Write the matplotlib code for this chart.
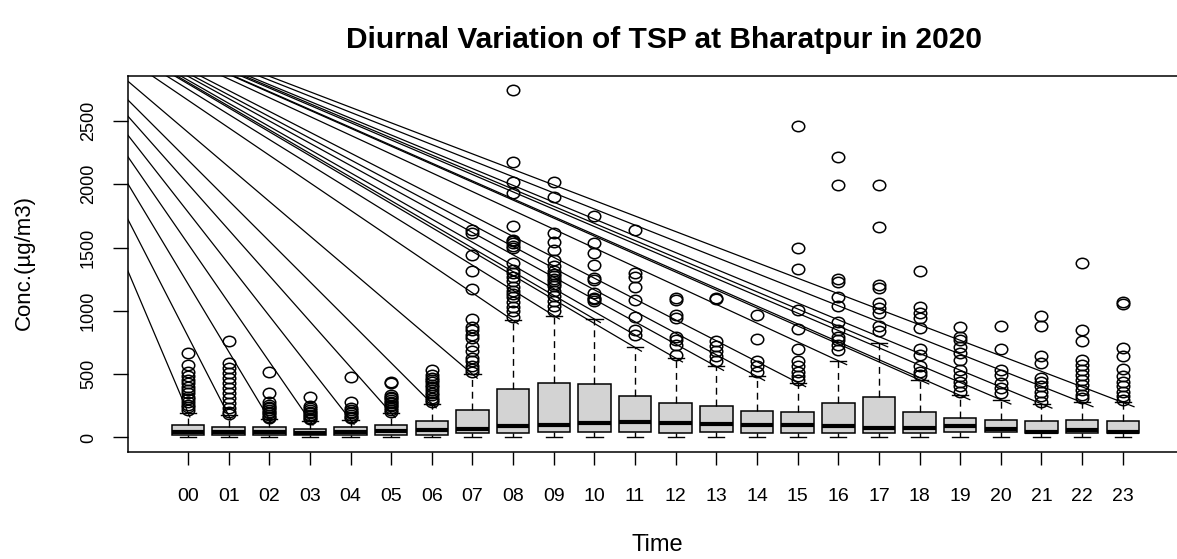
import matplotlib
matplotlib.use('Agg')
import matplotlib.pyplot as plt
from matplotlib.path import Path

plt.rcParams['font.family'] = ['Liberation Sans', 'DejaVu Sans']

# hourly box statistics (ug/m3)
hours = ['%02d' % h for h in range(24)]
q1 = [20, 19, 19, 19, 19, 19, 19, 34, 34, 41, 41, 41,
      34, 42, 34, 34, 34, 34, 34, 45, 40, 33, 33, 33]
med = [47, 42, 42, 35, 45, 53, 61, 69, 87, 100, 113, 121,
       113, 105, 100, 100, 87, 74, 74, 87, 66, 47, 61, 47]
q3 = [95, 79, 79, 66, 82, 100, 134, 219, 385, 429, 421, 324,
      276, 245, 211, 200, 276, 319, 205, 153, 140, 127, 140, 132]
whis_lo = [1] * 24
whis_hi = [197, 174, 145, 134, 140, 193, 268, 500, 924, 963, 935, 711,
           627, 561, 482, 434, 606, 745, 455, 332, 298, 266, 277, 277]
outliers = [
    [665, 574, 520, 482, 455, 429, 400, 376, 350, 322, 300, 284, 260, 243, 217],
    [764, 586, 548, 507, 467, 428, 388, 349, 309, 270, 231, 200, 185],
    [520, 354, 284, 257, 240, 231, 215, 204, 190, 178, 165, 152],
    [322, 249, 230, 219, 205, 193, 180, 166, 155, 145],
    [477, 284, 231, 215, 205, 190, 178, 165, 152],
    [441, 430, 335, 320, 309, 295, 284, 270, 257, 245, 231, 218, 205],
    [534, 494, 470, 455, 435, 415, 395, 376, 355, 336, 315, 296, 280],
    [1640, 1615, 1443, 1311, 1174, 935, 870, 845, 810, 785, 719, 680, 627,
     600, 561, 540, 521],
    [2740, 2174, 2021, 1934, 1666, 1561, 1550, 1535, 1510, 1495, 1377, 1324,
     1298, 1270, 1232, 1192, 1153, 1130, 1113, 1070, 1034, 995, 955],
    [2021, 1898, 1614, 1540, 1482, 1403, 1351, 1311, 1290, 1272, 1250, 1232,
     1210, 1193, 1153, 1114, 1074, 1035, 1000],
    [1745, 1535, 1456, 1363, 1258, 1245, 1140, 1100, 1090, 1074],
    [1640, 1298, 1271, 1187, 1087, 955, 850, 811],
    [1100, 1082, 969, 943, 797, 771, 732, 653],
    [1100, 1090, 758, 719, 679, 640, 600],
    [969, 777, 600, 561, 521],
    [2463, 1500, 1332, 1008, 856, 698, 600, 561, 521, 482, 455],
    [2218, 1995, 1250, 1224, 1113, 1042, 911, 845, 797, 766, 732, 692],
    [1995, 1663, 1206, 1179, 1061, 1021, 982, 877, 837],
    [1318, 1029, 982, 943, 864, 698, 653, 561, 521, 495],
    [869, 793, 771, 714, 666, 613, 534, 482, 442, 403, 363],
    [877, 700, 534, 495, 429, 390, 350],
    [961, 877, 645, 592, 469, 442, 403, 363, 324, 284],
    [1377, 845, 758, 608, 574, 534, 495, 455, 416, 376, 337, 311],
    [1066, 1056, 703, 645, 540, 482, 442, 403, 363, 324, 298],
]
# stray lines in the original all fan out from one point up-left
fan_origin = (-3.58, 3659)

positions = list(range(1, 25))
stats = []
for i in range(24):
    stats.append(dict(med=med[i], q1=q1[i], q3=q3[i], whislo=whis_lo[i],
                      whishi=whis_hi[i], fliers=outliers[i], label=hours[i]))

# circles look a bit wider than tall in the reference
circ = Path.unit_circle()
ellipse = Path(circ.vertices * [1.2, 1.0], circ.codes)

fig = plt.figure(figsize=(11.77, 5.59), dpi=100)
ax = fig.add_axes([128 / 1177, 107 / 559, 1072 / 1177, 376 / 559])

# fan lines to the top of each upper whisker
ox, oy = fan_origin
for p, hi in zip(positions, whis_hi):
    ex = ox + (p - ox) * 1.01
    ey = oy + (hi - oy) * 1.01
    ax.plot([ox, ex], [oy, ey], color='black', lw=0.9, zorder=1)

ax.bxp(stats, positions=positions, widths=0.8, capwidths=0.4,
       patch_artist=True, showfliers=True,
       boxprops=dict(facecolor='#d3d3d3', edgecolor='black', linewidth=1.1),
       medianprops=dict(color='black', linewidth=3.0, solid_capstyle='butt'),
       whiskerprops=dict(color='black', linewidth=1.0, linestyle=(0, (5, 3.5))),
       capprops=dict(color='black', linewidth=1.0),
       flierprops=dict(marker=ellipse, markersize=9, markerfacecolor='none',
                       markeredgecolor='black', markeredgewidth=1.1))

ax.set_xlim(-0.476, 25.9)
ax.set_ylim(-114.5, 2854)

ax.set_xticks(positions)
ax.set_xticklabels(hours, fontsize=14)
ax.set_yticks([0, 500, 1000, 1500, 2000, 2500])
ax.set_yticklabels(['0', '500', '1000', '1500', '2000', '2500'],
                   rotation=90, va='center', fontsize=13)
ax.tick_params(axis='x', length=9.4, width=1.0, pad=16.5)
ax.tick_params(axis='y', length=10.8, width=1.0, pad=11.5)
for s in ax.spines.values():
    s.set_linewidth(1.1)

ax.set_xlabel('Time', fontsize=17, va='baseline')
ax.xaxis.set_label_coords((657 - 128) / 1072, (452 - 551) / 376)
ax.set_ylabel('Conc.(µg/m3)', fontsize=16, va='center', ha='center')
ax.yaxis.set_label_coords((24 - 128) / 1072, (452 - 262) / 376)

ax.set_title('Diurnal Variation of TSP at Bharatpur in 2020',
             fontsize=21.5, fontweight='bold', pad=20)

fig.savefig('out.png', dpi=100)
